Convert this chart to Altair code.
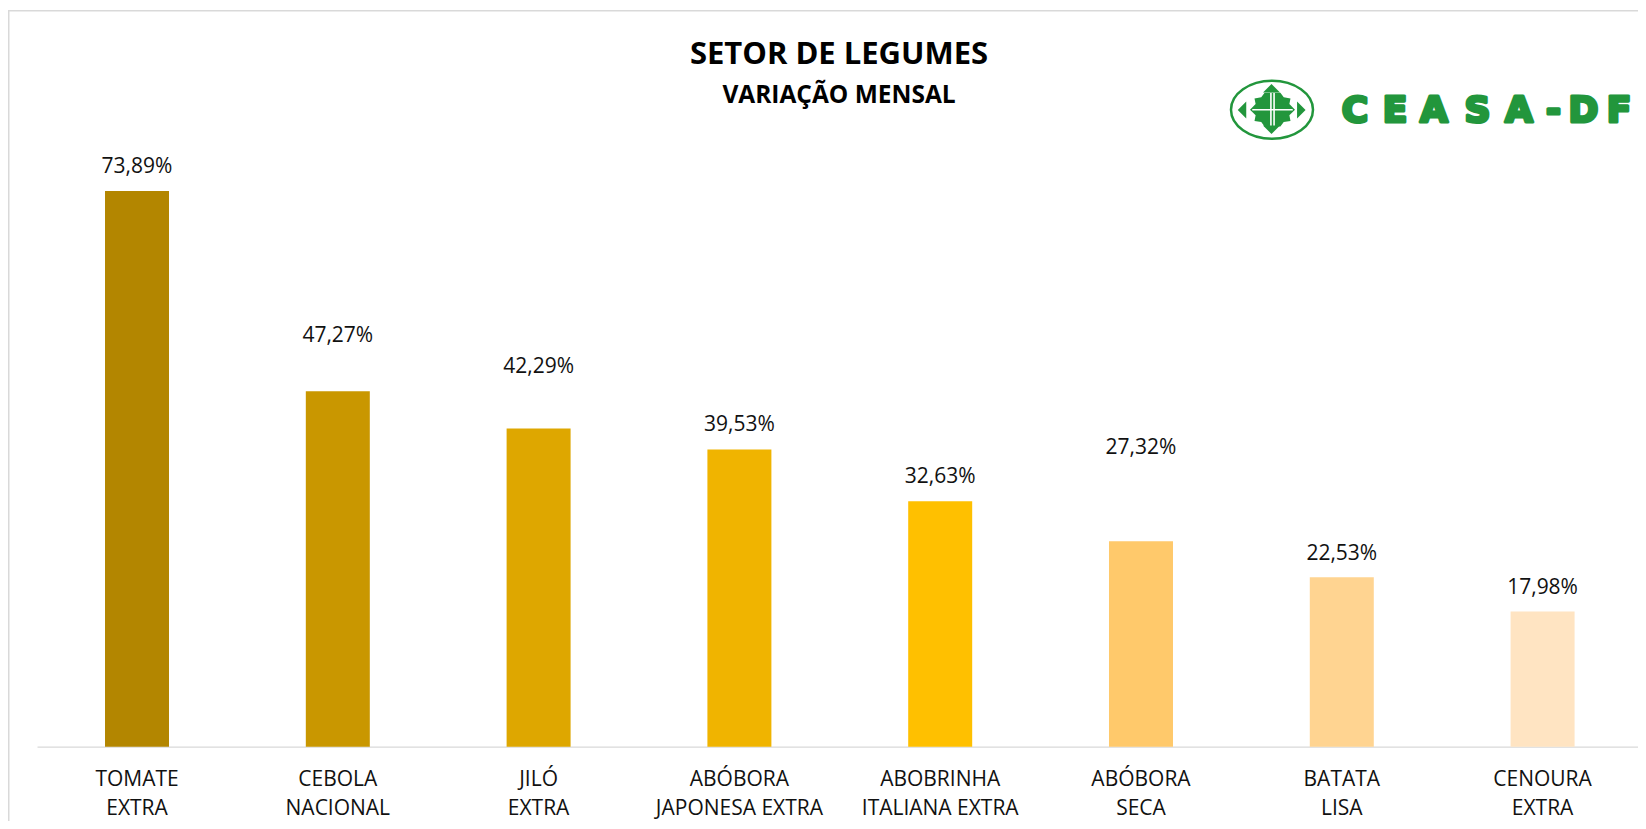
import altair as alt
import pandas as pd

# ---------------- data ----------------
categories = [
    "TOMATE EXTRA",
    "CEBOLA NACIONAL",
    "JILÓ EXTRA",
    "ABÓBORA JAPONESA EXTRA",
    "ABOBRINHA ITALIANA EXTRA",
    "ABÓBORA SECA",
    "BATATA LISA",
    "CENOURA EXTRA",
]
values = [73.89, 47.27, 42.29, 39.53, 32.63, 27.32, 22.53, 17.98]
# height (in data units) at which each value label sits in the reference
label_heights = [77.25, 54.79, 50.69, 42.94, 36.06, 39.89, 25.82, 21.28]
bar_colors = ["#B38600", "#C99700", "#DEA700", "#F0B400",
              "#FFC000", "#FFC96B", "#FFD491", "#FFE4C2"]

title_text = "SETOR DE LEGUMES"
subtitle_text = "VARIAÇÃO MENSAL"
logo_letters = ["C", "E", "A", "S", "A", "-", "D", "F"]

# ---------------- layout / style ----------------
W = 1601
H = 601.7
FONT = "Open Sans"
GREEN = "#22963C"
GRID = "#D9D9D9"

df = pd.DataFrame({
    "categoria": categories,
    "valor": values,
    "rotulo": [f"{v:.2f}".replace(".", ",") + "%" for v in values],
    "altura_rotulo": label_heights,
})
one = pd.DataFrame({"k": [0]})

xscale = alt.Scale(domain=categories, paddingInner=0.6813, paddingOuter=0.3272,
                   align=0.5175, round=False)
yscale = alt.Scale(domain=[0, 80], nice=False, zero=True)

label_expr = ("[substring(datum.label, 0, indexof(datum.label, ' ')), "
              "substring(datum.label, indexof(datum.label, ' ') + 1)]")

bars = alt.Chart(df).mark_bar().encode(
    x=alt.X("categoria:N", scale=xscale, sort=categories,
            axis=alt.Axis(title=None, labelAngle=0, ticks=False, tickSize=0,
                          domainColor=GRID, domainWidth=1.3,
                          labelFont=FONT, labelFontSize=21, labelColor="#111111",
                          labelPadding=21.7, labelLineHeight=29.5,
                          labelBaseline="top", labelOverlap=False,
                          labelLimit=400, labelExpr=label_expr, grid=False)),
    y=alt.Y("valor:Q", scale=yscale, axis=None),
    color=alt.Color("categoria:N", scale=alt.Scale(domain=categories, range=bar_colors),
                    legend=None),
)

labels = alt.Chart(df).mark_text(font=FONT, fontSize=21, color="#111111",
                                 baseline="middle", dy=1.5).encode(
    x=alt.X("categoria:N", scale=xscale, sort=categories),
    y=alt.Y("altura_rotulo:Q", scale=yscale),
    text="rotulo:N",
)

layers = [bars, labels]

# frame lines (top and left) of the original chart area
layers.append(alt.Chart(one).mark_rule(stroke=GRID, strokeWidth=1.5).encode(
    x=alt.value(-29), x2=alt.value(W), y=alt.value(-134.3)))
layers.append(alt.Chart(one).mark_rule(stroke=GRID, strokeWidth=1.5).encode(
    x=alt.value(-28.25), y=alt.value(-134.3), y2=alt.value(676)))

# titles
layers.append(alt.Chart(one).mark_text(font=FONT, fontSize=31, fontWeight="bold",
                                       color="#000000", align="center",
                                       baseline="alphabetic").encode(
    x=alt.value(802), y=alt.value(-81), text=alt.value(title_text)))
layers.append(alt.Chart(one).mark_text(font=FONT, fontSize=24.5, fontWeight="bold",
                                       color="#000000", align="center",
                                       baseline="alphabetic").encode(
    x=alt.value(802), y=alt.value(-41.5), text=alt.value(subtitle_text)))

# logo: ellipse, emblem, arrows
ellipse = "M -1 0 A 1 0.707 0 1 0 1 0 A 1 0.707 0 1 0 -1 0 Z"
layers.append(alt.Chart(one).mark_point(shape=ellipse, filled=False, stroke=GREEN,
                                        strokeWidth=2.5, size=6724, opacity=1).encode(
    x=alt.value(1235), y=alt.value(-35.3)))

blob = ("M -0.35 -0.75 L 0.35 -0.75 L 0.5 -0.55 L 0.8 -0.5 L 0.75 -0.25 L 1 0 "
        "L 0.75 0.25 L 0.8 0.5 L 0.5 0.55 L 0.35 0.75 L -0.35 0.75 L -0.5 0.55 "
        "L -0.8 0.5 L -0.75 0.25 L -1 0 L -0.75 -0.25 L -0.8 -0.5 L -0.5 -0.55 Z")
layers.append(alt.Chart(one).mark_point(shape=blob, filled=True, fill=GREEN,
                                        strokeWidth=0, size=2025, opacity=1).encode(
    x=alt.value(1235.5), y=alt.value(-35.3)))
cross = "M -0.07 -0.75 L -0.07 0.75 M 0.07 -0.75 L 0.07 0.75 M -0.9 0 L 0.9 0"
layers.append(alt.Chart(one).mark_point(shape=cross, filled=False, stroke="white",
                                        strokeWidth=1.6, size=2025, opacity=1).encode(
    x=alt.value(1235.5), y=alt.value(-35.3)))

tri_up = "M -1 0.5 L 0 -0.5 L 1 0.5 Z"
tri_down = "M -1 -0.5 L 0 0.5 L 1 -0.5 Z"
tri_left = "M 0.5 -1 L -0.5 0 L 0.5 1 Z"
tri_right = "M -0.5 -1 L 0.5 0 L -0.5 1 Z"
for shp, px, py in [(tri_up, 1234.5, -56.7), (tri_down, 1234.5, -15.3),
                    (tri_left, 1205, -35), (tri_right, 1264.3, -35)]:
    layers.append(alt.Chart(one).mark_point(shape=shp, filled=True, fill=GREEN,
                                            strokeWidth=0, size=289, opacity=1).encode(
        x=alt.value(px), y=alt.value(py)))

# logo lettering, one glyph per slot to mimic the extended typeface
letter_x = [1318, 1358, 1397, 1440.5, 1482, 1516.5, 1546.5, 1582]
for ch, px in zip(logo_letters, letter_x):
    layers.append(alt.Chart(one).mark_text(font="DejaVu Sans", fontSize=36,
                                           fontWeight="bold", color=GREEN,
                                           stroke=GREEN, strokeWidth=3.2,
                                           strokeJoin="round",
                                           align="center", baseline="alphabetic").encode(
        x=alt.value(px), y=alt.value(-23), text=alt.value(ch)))

chart = alt.layer(*layers).properties(
    width=W, height=H,
    padding={"left": 29, "top": 137, "right": 0, "bottom": 74},
    autosize=alt.AutoSizeParams(type="none"),
    background="white",
).configure_view(strokeWidth=0)

chart.save("out.html", embed_options={"renderer": "svg", "actions": False})
